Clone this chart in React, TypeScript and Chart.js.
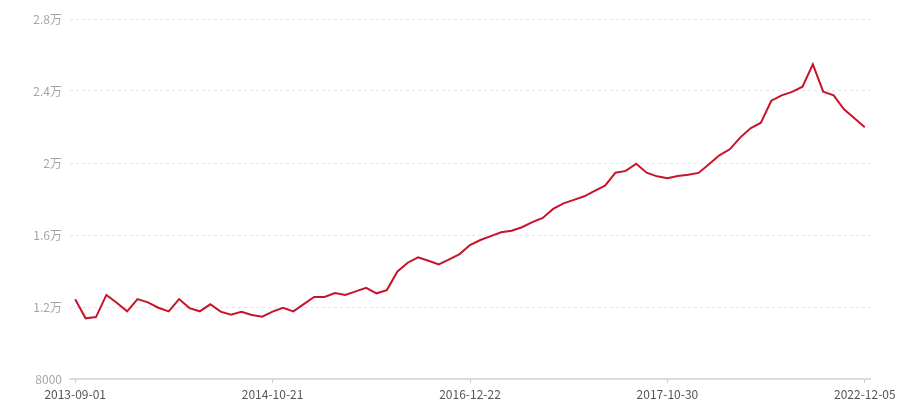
import React, { useEffect, useRef } from 'react';
import { Chart, registerables } from 'chart.js';

Chart.register(...registerables);

// price series, one point per period (77 points)
const values = [
  12430, 11370, 11440, 12670, 12240, 11760, 12440, 12260, 11960, 11760,
  12440, 11940, 11760, 12150, 11740, 11570, 11740, 11560, 11460, 11740,
  11960, 11760, 12160, 12560, 12560, 12780, 12670, 12870, 13060, 12760,
  12940, 13960, 14460, 14760, 14570, 14370, 14650, 14940, 15440, 15720,
  15940, 16150, 16240, 16430, 16720, 16950, 17450, 17760, 17950, 18150,
  18450, 18740, 19460, 19560, 19960, 19460, 19260, 19150, 19280, 19350,
  19450, 19930, 20430, 20760, 21410, 21930, 22240, 23460, 23760, 23950,
  24240, 25480, 23960, 23760, 22980, 22480, 21980,
];

// dates shown on the x axis and the points they belong to
const tickDates = ['2013-09-01', '2014-10-21', '2016-12-22', '2017-10-30', '2022-12-05'];
const tickIndexes = [0, 19, 38, 57, 76];

const yTicks = [8000, 12000, 16000, 20000, 24000, 28000];

const labels = values.map((_, i) => {
  const k = tickIndexes.indexOf(i);
  return k >= 0 ? tickDates[k] : '';
});

const FONT = '"Noto Sans CJK SC", "Noto Sans", sans-serif';

const PriceChart: React.FC = () => {
  const canvasRef = useRef<HTMLCanvasElement>(null);
  const chartRef = useRef<Chart | null>(null);

  useEffect(() => {
    if (!canvasRef.current) return;
    if (chartRef.current) chartRef.current.destroy();

    chartRef.current = new Chart(canvasRef.current, {
      type: 'line',
      data: {
        labels,
        datasets: [{
          data: values,
          borderColor: '#c8142a',
          borderWidth: 2,
          pointRadius: 0,
          tension: 0,
          fill: false,
        }],
      },
      options: {
        responsive: true,
        maintainAspectRatio: false,
        animation: false,
        layout: { padding: { top: 19, right: 30, left: 0, bottom: 0 } },
        plugins: {
          legend: { display: false },
          tooltip: { enabled: false },
        },
        scales: {
          x: {
            type: 'category',
            offset: true,
            afterBuildTicks: (axis: any) => {
              axis.ticks = tickIndexes.map((v) => ({ value: v }));
            },
            afterFit: (axis: any) => {
              axis.height = 21;
            },
            grid: {
              offset: false,
              drawOnChartArea: false,
              drawTicks: true,
              tickLength: 4,
              color: '#cccccc',
            },
            border: { display: true, color: '#dcdcdc', width: 2 },
            ticks: {
              autoSkip: false,
              maxRotation: 0,
              padding: 4,
              color: '#555555',
              font: { family: FONT, size: 12 },
            },
          },
          y: {
            min: yTicks[0],
            max: yTicks[yTicks.length - 1],
            afterBuildTicks: (axis: any) => {
              axis.ticks = yTicks.map((v) => ({ value: v }));
            },
            afterFit: (axis: any) => {
              axis.width = 70;
            },
            grid: {
              drawTicks: false,
              color: '#e6e6e6',
              lineWidth: 1,
            },
            border: { display: false, dash: [3, 3] },
            ticks: {
              padding: 8,
              color: '#a6a6a6',
              font: { family: FONT, size: 12 },
              callback: (v: any) => (v >= 10000 ? `${v / 10000}万` : `${v}`),
            },
          },
        },
      },
    });

    return () => {
      if (chartRef.current) {
        chartRef.current.destroy();
        chartRef.current = null;
      }
    };
  }, []);

  return (
    <div style={{ position: 'fixed', left: 0, top: 0, width: 900, height: 400, background: '#fff' }}>
      <canvas ref={canvasRef} />
    </div>
  );
};

export default function App() {
  return <PriceChart />;
}
